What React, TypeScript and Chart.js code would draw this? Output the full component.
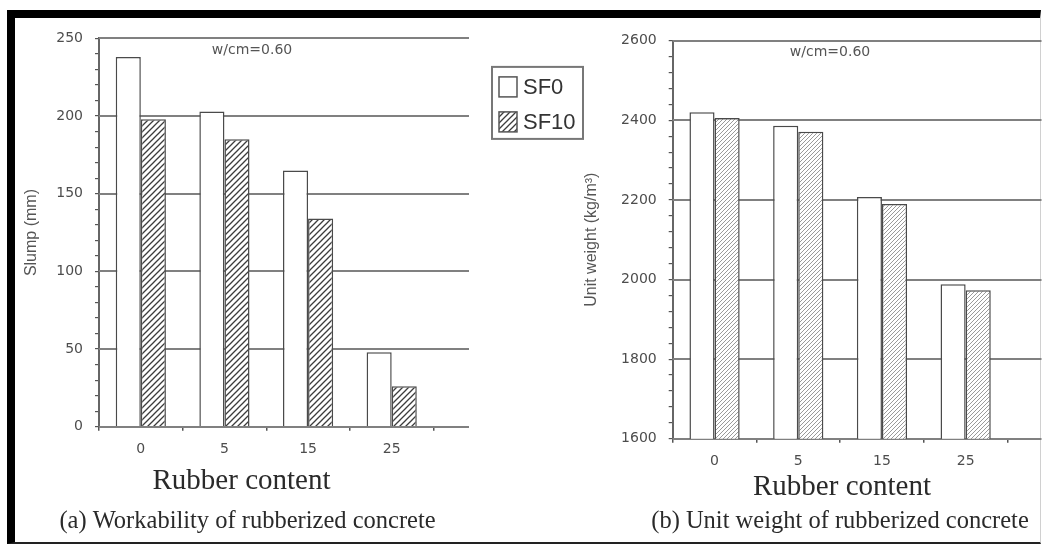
import React, { useEffect, useRef } from 'react';
import { Chart, registerables } from 'chart.js';

Chart.register(...registerables);

// ---------- data ----------
const categories = ['0', '5', '15', '25'];
const seriesLabels = ['SF0', 'SF10'];
const slumpSF0 = [238, 203, 165, 48];
const slumpSF10 = [198, 185, 134, 26];
const unitWeightSF0 = [2420, 2386, 2207, 1988];
const unitWeightSF10 = [2406, 2371, 2190, 1973];
const slumpAxis = { min: 0, max: 250, major: 50, minor: 10 };
const unitAxis = { min: 1600, max: 2600, major: 200, minor: 40 };

const SANS = '"DejaVu Sans", sans-serif';
const ARIAL = '"Liberation Sans", Arial, sans-serif';
const SERIF = '"Liberation Serif", "Times New Roman", serif';

function makeHatch(ctx: CanvasRenderingContext2D, size: number, color: string, lw: number) {
  const c = document.createElement('canvas');
  c.width = size;
  c.height = size;
  const g = c.getContext('2d')!;
  g.fillStyle = '#ffffff';
  g.fillRect(0, 0, size, size);
  g.strokeStyle = color;
  g.lineWidth = lw;
  g.beginPath();
  g.moveTo(0, size);
  g.lineTo(size, 0);
  g.moveTo(-size / 2, size / 2);
  g.lineTo(size / 2, -size / 2);
  g.moveTo(size / 2, size * 1.5);
  g.lineTo(size * 1.5, size / 2);
  g.stroke();
  return ctx.createPattern(c, 'repeat') as CanvasPattern;
}

interface PanelProps {
  left: number;
  top: number;
  width: number;
  height: number;
  sf0: number[];
  sf10: number[];
  axis: { min: number; max: number; major: number; minor: number };
  yTitle: string;
  yTitlePad: number;
  hatchSize: number;
  hatchColor: string;
  hatchWidth: number;
  padTop: number;
  padRight: number;
  yWidth: number;
  xHeight: number;
  gridExt: number;
  note: string;
  notePos: [number, number];
  xTitle: string;
  xTitlePos: [number, number];
  caption: string;
  captionPos: [number, number];
  showLegend: boolean;
}

const decorPlugin = {
  id: 'decor',
  beforeDatasetsDraw(chart: any, _args: any, opts: any) {
    const ctx = chart.ctx as CanvasRenderingContext2D;
    const y = chart.scales.y;
    const { left, right } = chart.chartArea;
    ctx.save();
    ctx.strokeStyle = '#808080';
    ctx.lineWidth = 2;
    y.ticks.forEach((t: any) => {
      const v = Math.round(t.value);
      if ((v - opts.axisMin) % opts.major === 0) {
        const py = Math.round(y.getPixelForValue(v));
        ctx.beginPath();
        ctx.moveTo(left, py);
        ctx.lineTo(right + opts.gridExt, py);
        ctx.stroke();
      }
    });
    ctx.restore();
  },
  afterDraw(chart: any, _args: any, opts: any) {
    const ctx = chart.ctx as CanvasRenderingContext2D;
    ctx.save();
    ctx.textAlign = 'center';
    ctx.textBaseline = 'middle';
    ctx.fillStyle = '#555555';
    ctx.font = `14px ${SANS}`;
    ctx.fillText(opts.note, opts.notePos[0], opts.notePos[1]);
    ctx.fillStyle = '#2a2a2a';
    ctx.font = `29px ${SERIF}`;
    ctx.fillText(opts.xTitle, opts.xTitlePos[0], opts.xTitlePos[1]);
    ctx.font = `24.5px ${SERIF}`;
    ctx.fillText(opts.caption, opts.captionPos[0], opts.captionPos[1]);

    if (opts.showLegend) {
      const bx = chart.chartArea.right + 58.5;
      const by = chart.chartArea.top + 28.5;
      ctx.strokeStyle = '#777777';
      ctx.lineWidth = 2;
      ctx.strokeRect(bx, by, 91, 72);
      const rows = [10, 45];
      chart.data.datasets.forEach((ds: any, i: number) => {
        const sx = bx + 7;
        const sy = by + rows[i];
        ctx.fillStyle = ds.backgroundColor;
        ctx.fillRect(sx, sy, 18, 20);
        ctx.strokeStyle = '#555555';
        ctx.lineWidth = 1.5;
        ctx.strokeRect(sx, sy, 18, 20);
        ctx.fillStyle = '#333333';
        ctx.font = `22px ${ARIAL}`;
        ctx.textAlign = 'left';
        ctx.fillText(ds.label, bx + 31, sy + 11);
      });
    }
    ctx.restore();
  },
};

function Panel(p: PanelProps) {
  const ref = useRef<HTMLCanvasElement>(null);
  useEffect(() => {
    const canvas = ref.current!;
    const ctx = canvas.getContext('2d')!;
    const hatch = makeHatch(ctx, p.hatchSize, p.hatchColor, p.hatchWidth);
    const chart = new Chart(canvas, {
      type: 'bar',
      data: {
        labels: categories,
        datasets: [
          {
            label: seriesLabels[0],
            data: p.sf0,
            backgroundColor: '#ffffff',
            borderColor: '#4a4a4a',
            borderWidth: 1.5,
            categoryPercentage: 0.6,
            barPercentage: 1.0,
          },
          {
            label: seriesLabels[1],
            data: p.sf10,
            backgroundColor: hatch as any,
            borderColor: '#4a4a4a',
            borderWidth: 1.5,
            categoryPercentage: 0.6,
            barPercentage: 1.0,
          },
        ],
      },
      options: {
        responsive: false,
        animation: false,
        devicePixelRatio: 1,
        layout: { padding: { top: p.padTop, right: p.padRight, left: 0, bottom: 0 } },
        plugins: {
          legend: { display: false },
          title: { display: false },
          tooltip: { enabled: false },
          decor: {
            axisMin: p.axis.min,
            major: p.axis.major,
            gridExt: p.gridExt,
            note: p.note,
            notePos: p.notePos,
            xTitle: p.xTitle,
            xTitlePos: p.xTitlePos,
            caption: p.caption,
            captionPos: p.captionPos,
            showLegend: p.showLegend,
          },
        } as any,
        scales: {
          x: {
            type: 'category',
            offset: true,
            grid: {
              offset: true,
              drawOnChartArea: false,
              drawTicks: true,
              tickLength: 4,
              color: '#555555',
              lineWidth: 1.5,
            },
            border: { display: false },
            ticks: {
              font: { family: SANS, size: 14 },
              color: '#4d4d4d',
              padding: 10,
              autoSkip: false,
              maxRotation: 0,
            },
            afterFit: (s: any) => {
              s.height = p.xHeight;
            },
          },
          y: {
            type: 'linear',
            min: p.axis.min,
            max: p.axis.max,
            grid: {
              drawOnChartArea: false,
              drawTicks: true,
              tickLength: 4,
              color: '#555555',
              lineWidth: 1.2,
            },
            border: { display: true, color: '#666666', width: 2 },
            ticks: {
              stepSize: p.axis.minor,
              autoSkip: false,
              font: { family: SANS, size: 14 },
              color: '#4d4d4d',
              padding: 12,
              callback: (v: any) => {
                const n = Math.round(Number(v));
                return (n - p.axis.min) % p.axis.major === 0 ? String(n) : '';
              },
            },
            title: {
              display: true,
              text: p.yTitle,
              font: { family: ARIAL, size: 16 },
              color: '#555555',
              padding: { top: p.yTitlePad, bottom: 0 },
            },
            afterFit: (s: any) => {
              s.width = p.yWidth;
            },
          },
        },
      },
      plugins: [decorPlugin],
    });
    return () => chart.destroy();
  }, []);
  return (
    <canvas
      ref={ref}
      width={p.width}
      height={p.height}
      style={{ position: 'absolute', left: p.left, top: p.top, width: p.width, height: p.height }}
    />
  );
}

export default function App() {
  return (
    <div
      style={{
        position: 'absolute',
        left: 0,
        top: 0,
        width: 1046,
        height: 545,
        background: '#ffffff',
        overflow: 'hidden',
      }}
    >
      <div
        style={{
          position: 'absolute',
          left: 7,
          top: 10,
          width: 1034,
          height: 534,
          boxSizing: 'border-box',
          borderTop: '8px solid #000',
          borderLeft: '8px solid #000',
          borderBottom: '2px solid #222',
          borderRight: '1px solid #d0d0d0',
        }}
      />
      <Panel
        left={16}
        top={18}
        width={584}
        height={523}
        sf0={slumpSF0}
        sf10={slumpSF10}
        axis={slumpAxis}
        yTitle="Slump (mm)"
        yTitlePad={6.4}
        hatchSize={6}
        hatchColor="#3c3c3c"
        hatchWidth={1.3}
        padTop={20.3}
        padRight={166.5}
        yWidth={83}
        xHeight={114.3}
        gridExt={35.5}
        note="w/cm=0.60"
        notePos={[236, 32]}
        xTitle="Rubber content"
        xTitlePos={[225.5, 463.7]}
        caption="(a) Workability of rubberized concrete"
        captionPos={[231.5, 503.7]}
        showLegend={true}
      />
      <Panel
        left={560}
        top={18}
        width={486}
        height={523}
        sf0={unitWeightSF0}
        sf10={unitWeightSF10}
        axis={unitAxis}
        yTitle="Unit weight (kg/m³)"
        yTitlePad={22.4}
        hatchSize={4}
        hatchColor="#9a9a9a"
        hatchWidth={1}
        padTop={22.7}
        padRight={38.5}
        yWidth={112.7}
        xHeight={102.3}
        gridExt={34}
        note="w/cm=0.60"
        notePos={[270, 34]}
        xTitle="Rubber content"
        xTitlePos={[282, 469]}
        caption="(b) Unit weight of rubberized concrete"
        captionPos={[280, 503.7]}
        showLegend={false}
      />
    </div>
  );
}
